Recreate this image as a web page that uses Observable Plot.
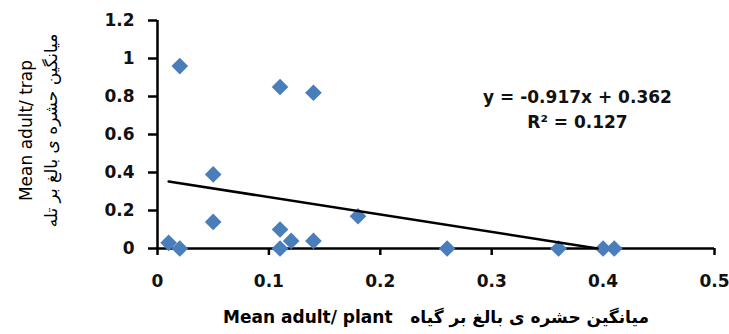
<!DOCTYPE html>
<html>
<head>
<meta charset="utf-8">
<script src="https://cdn.jsdelivr.net/npm/d3@7"></script>
<script src="https://cdn.jsdelivr.net/npm/@observablehq/plot@0.6"></script>
<style>
  html, body { margin: 0; padding: 0; background: #fff; }
</style>
</head>
<body>
<div id="chart"></div>
<script>
// Data
const plantMeans = [0.01, 0.02, 0.02, 0.05, 0.05, 0.11, 0.11, 0.11, 0.12, 0.14, 0.14, 0.18, 0.26, 0.36, 0.40, 0.41];
const trapMeans  = [0.03, 0.00, 0.96, 0.39, 0.14, 0.85, 0.10, 0.00, 0.04, 0.82, 0.04, 0.17, 0.00, 0.00, 0.00, 0.00];

// Linear trendline shown in the chart
const slope = -0.917;
const intercept = 0.362;
const rSquared = 0.127;
const trendXs = [0.01, 0.395];

const xTicks = [0, 0.1, 0.2, 0.3, 0.4, 0.5];
const yTicks = [0, 0.2, 0.4, 0.6, 0.8, 1, 1.2];

const xTitleEn = "Mean adult/ plant";
const xTitleFa = "میانگین حشره ی بالغ بر گیاه";
const yTitleEn = "Mean adult/ trap";
const yTitleFa = "میانگین حشره ی بالغ بر تله";

const equationText = `y = ${slope}x + ${intercept}`;
const r2Text = `R² = ${rSquared}`;

const points = plantMeans.map((x, i) => ({x, y: trapMeans[i]}));
const trend = trendXs.map(x => ({x, y: slope * x + intercept}));

const blue = "#4a7ebb";
const font = "'DejaVu Sans', sans-serif";

const chart = Plot.plot({
  width: 729,
  height: 334,
  marginLeft: 157,
  marginRight: 15,
  marginTop: 20,
  marginBottom: 86,
  x: {domain: [0, 0.5]},
  y: {domain: [0, 1.2]},
  style: {fontFamily: font, background: "#fff", color: "#000"},
  marks: [
    Plot.axisX({ticks: xTicks, tickFormat: d => String(d), tickSize: 7, tickPadding: 19,
      fontSize: 17, fontWeight: "bold", strokeWidth: 2.5, label: null, fill: "#111"}),
    Plot.axisY({ticks: yTicks, tickFormat: d => String(d), tickSize: 9, tickPadding: 14,
      fontSize: 17, fontWeight: "bold", strokeWidth: 2.5, label: null, fill: "#111"}),
    Plot.ruleY([0], {stroke: "#000", strokeWidth: 2.5}),
    Plot.ruleX([0], {stroke: "#000", strokeWidth: 2.5}),
    Plot.dot(points, {x: "x", y: "y", symbol: "diamond2", r: 7.5, fill: blue, stroke: "none"}),
    Plot.line(trend, {x: "x", y: "y", stroke: "#000", strokeWidth: 2.5}),
    Plot.text([equationText], {x: 0.377, y: 0.795, text: d => d, fontSize: 17, fontWeight: 600, fill: "#111", textAnchor: "middle"}),
    Plot.text([r2Text], {x: 0.377, y: 0.663, text: d => d, fontSize: 17, fontWeight: 600, fill: "#111", textAnchor: "middle"}),
    Plot.text([xTitleEn + "   " + xTitleFa], {frameAnchor: "bottom", dy: 74, text: d => d,
      fontSize: 17, fontWeight: "bold", fill: "#000", textAnchor: "middle"}),
    Plot.text([yTitleEn], {frameAnchor: "left", dx: -131, dy: -4, rotate: -90, text: d => d,
      fontSize: 17, fill: "#000", textAnchor: "middle", lineAnchor: "middle"}),
    Plot.text([yTitleFa], {frameAnchor: "left", dx: -106, dy: -4, rotate: -90, text: d => d,
      fontSize: 17, fill: "#000", textAnchor: "middle", lineAnchor: "middle"})
  ]
});

document.getElementById("chart").appendChild(chart);
</script>
</body>
</html>
